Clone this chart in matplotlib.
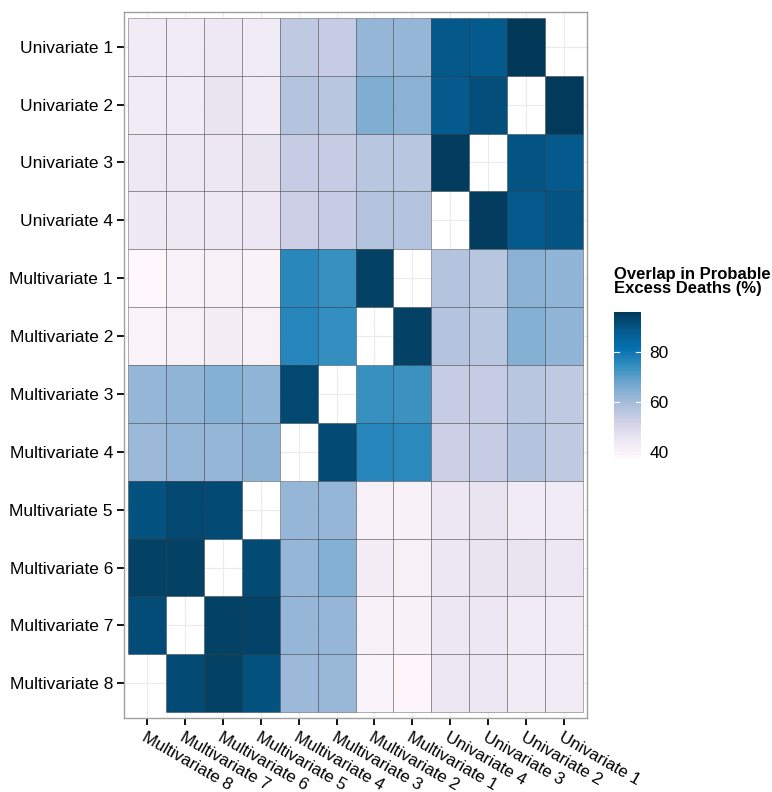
import numpy as np
import matplotlib.pyplot as plt
from matplotlib import cm, colors

rows = ["Univariate 1", "Univariate 2", "Univariate 3", "Univariate 4",
        "Multivariate 1", "Multivariate 2", "Multivariate 3", "Multivariate 4",
        "Multivariate 5", "Multivariate 6", "Multivariate 7", "Multivariate 8"]
cols = ["Multivariate 8", "Multivariate 7", "Multivariate 6", "Multivariate 5",
        "Multivariate 4", "Multivariate 3", "Multivariate 2", "Multivariate 1",
        "Univariate 4", "Univariate 3", "Univariate 2", "Univariate 1"]

nan = np.nan
# overlap (%) per row, columns in the order of cols
u1 = [43, 43, 44.5, 43, 55, 54, 62, 62, 89, 88.5, 96, nan]
u2 = [43, 43, 46, 43, 57, 56.5, 65, 63.5, 88.5, 91, nan, 95.5]
u3 = [44.5, 44.5, 45, 46, 54, 54, 56.5, 56.5, 95, nan, 90, 88.5]
u4 = [44, 44, 44, 45, 53, 54, 57, 57, nan, 95, 88.5, 90]
m1 = [37.6, 40, 41, 40, 76, 74, 94, nan, 57, 56.5, 63.5, 62.5]
m2 = [39.5, 41, 42, 41, 76.5, 74.5, nan, 94, 57, 56.5, 64.5, 62.5]
m3 = [62, 62.5, 64.5, 62.5, 92.5, nan, 74, 73.5, 54, 54, 56.5, 55]
m4 = [61, 62, 62, 63, nan, 92, 76.5, 75.5, 53, 54, 57, 55]
m5 = [90.5, 92.5, 92, nan, 62, 62, 41, 40.5, 45, 46, 43, 43]
m6 = [94, 94, nan, 92, 62, 64.5, 42, 41, 45, 46, 46, 45]
m7 = [91.5, nan, 94, 93.5, 62, 62, 41, 40.5, 45, 45, 43, 43]
m8 = [nan, 92, 94, 90.5, 61, 61.5, 39.5, 38.5, 45, 45, 43, 43]

vals = np.array([u1, u2, u3, u4, m1, m2, m3, m4, m5, m6, m7, m8])

plt.rcParams['font.family'] = ['Liberation Sans', 'DejaVu Sans']

fig = plt.figure(figsize=(7.72, 7.92), dpi=100)
ax = fig.add_axes([124/772, 1-718/792, (587-124)/772, (718-12)/792])

vmin, vmax = np.nanmin(vals), np.nanmax(vals)
cmap = plt.get_cmap("PuBu")
norm = colors.Normalize(vmin=vmin, vmax=vmax)

for i in range(len(rows)):
    for j in range(len(cols)):
        v = vals[i, j]
        if np.isnan(v):
            continue
        ax.add_patch(plt.Rectangle((j-0.5, i-0.5), 1, 1, facecolor=cmap(norm(v)),
                                   edgecolor=(0, 0, 0, 0.3), linewidth=0.7, zorder=2))

ax.set_xlim(-0.6, len(cols)-0.4)
ax.set_ylim(len(rows)-0.4, -0.6)
ax.set_xticks(range(len(cols)))
ax.set_yticks(range(len(rows)))
ax.set_xticklabels(cols, rotation=-30, ha="left", va="top", rotation_mode="anchor")
ax.set_yticklabels(rows)
ax.tick_params(length=5, width=1.3, labelsize=12.5, pad=3, color="black")
ax.tick_params(axis="x", labelsize=12.2)
ax.grid(True, color="#ebebeb", linewidth=0.8, zorder=0)
ax.set_axisbelow(True)
for s in ax.spines.values():
    s.set_color("#a0a0a0")
    s.set_linewidth(1)

cax = fig.add_axes([614/772, 1-458/792, 27/772, 146/792])
cb = fig.colorbar(cm.ScalarMappable(norm=norm, cmap=cmap), cax=cax, ticks=[40, 60, 80])
cb.outline.set_visible(False)
cax.tick_params(length=0, labelsize=12.5, pad=6)
for t in [40, 60, 80]:
    cax.plot([0, 0.2], [t, t], color="white", lw=0.8, transform=cax.get_yaxis_transform())
    cax.plot([0.8, 1], [t, t], color="white", lw=0.8, transform=cax.get_yaxis_transform())
fig.text(614/772, 1-267/792, "Overlap in Probable\nExcess Deaths (%)", fontsize=12,
         fontweight="bold", ha="left", va="top", linespacing=0.95)

plt.savefig("out.png", dpi=100)
